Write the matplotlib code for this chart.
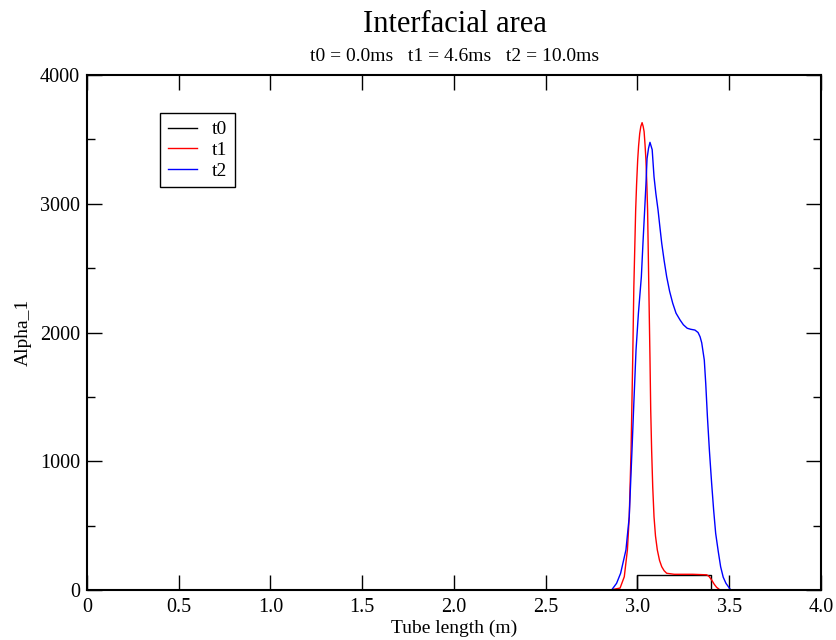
# Interfacial area - tres instantes

import matplotlib
matplotlib.use('Agg')
import matplotlib.pyplot as plt
from matplotlib.ticker import MultipleLocator

# Datos

x_t0 = [0.0, 3.0, 3.0, 3.4, 3.4, 3.75]
y_t0 = [0, 0, 120, 120, 0, 0]

x_t1 = [0.0, 2.85, 2.905, 2.928, 2.945, 2.955, 2.965, 2.974, 2.980, 2.990, 2.995,
        3.001, 3.006, 3.012, 3.018, 3.025, 3.031, 3.036, 3.041, 3.046, 3.051,
        3.055, 3.060, 3.068, 3.072, 3.077, 3.083, 3.090, 3.098, 3.108, 3.120,
        3.132, 3.145, 3.159, 3.20, 3.30, 3.377, 3.390, 3.404, 3.418, 3.431, 3.45, 3.75]
y_t1 = [0, 0, 15, 103, 311, 569, 1087, 1800, 2350, 2951, 3150,
        3340, 3450, 3545, 3600, 3630, 3600, 3560, 3460, 3340, 3150,
        2951, 2500, 1800, 1400, 1087, 800, 569, 420, 311, 230,
        181, 150, 130, 122, 122, 118, 105, 78, 45, 21, 0, 0]

x_t2 = [0.0, 2.82, 2.859, 2.886, 2.908, 2.937, 2.955, 2.970, 2.980, 2.992, 3.005,
        3.021, 3.030, 3.039, 3.046, 3.052, 3.060, 3.068, 3.080, 3.090, 3.100,
        3.112, 3.122, 3.132, 3.145, 3.159, 3.175, 3.192, 3.210, 3.232, 3.250,
        3.271, 3.290, 3.313, 3.330, 3.341, 3.350, 3.364, 3.372, 3.381, 3.392,
        3.404, 3.415, 3.426, 3.440, 3.453, 3.467, 3.482, 3.508, 3.75]
y_t2 = [0, 0, 0, 52, 130, 311, 569, 1087, 1450, 1864, 2150,
        2433, 2700, 2951, 3150, 3350, 3430, 3477, 3420, 3210, 3080,
        2951, 2820, 2693, 2560, 2433, 2320, 2227, 2150, 2097, 2060,
        2033, 2025, 2019, 2000, 1967, 1920, 1786, 1600, 1346, 1080,
        829, 620, 440, 300, 181, 100, 52, 0, 0]

# Grafica

plt.rcParams['font.family'] = ['Liberation Serif', 'DejaVu Serif']

fig = plt.figure(figsize=(8.37, 6.4), dpi=100)
ax = fig.add_axes([87 / 837, 50 / 640, 734 / 837, 515 / 640])

ax.plot(x_t0, y_t0, color='black', lw=1.0, label='t0')
ax.plot(x_t1, y_t1, color='red', lw=1.0, label='t1')
ax.plot(x_t2, y_t2, color='blue', lw=1.0, label='t2')

ax.set_xlim(0, 4)
ax.set_ylim(0, 4000)
ax.yaxis.set_major_locator(MultipleLocator(1000))
ax.yaxis.set_minor_locator(MultipleLocator(500))
ax.set_xticks([0, 0.5, 1.0, 1.5, 2.0, 2.5, 3.0, 3.5, 4.0])
ax.set_xticklabels(['0', '0.5', '1.0', '1.5', '2.0', '2.5', '3.0', '3.5', '4.0'])

ax.tick_params(which='both', direction='in', top=True, right=True, labelsize=14.5)
ax.tick_params(which='major', length=11, width=1)
ax.tick_params(which='minor', length=6, width=1)
ax.tick_params(axis='x', pad=6)
ax.tick_params(axis='y', pad=5)
for s in ax.spines.values():
    s.set_linewidth(1.5)

ax.set_xlabel('Tube length (m)', fontsize=14, labelpad=2)
ax.set_ylabel('Alpha_1', fontsize=14, labelpad=6)

fig.text(0.543, 0.962, 'Interfacial area', ha='center', va='center', fontsize=22)
fig.text(0.543, 0.911, 't0 = 0.0ms   t1 = 4.6ms   t2 = 10.0ms', ha='center', va='center', fontsize=14)

leg = ax.legend(loc='upper left', bbox_to_anchor=(0.0995, 0.926), fontsize=14,
                fancybox=False, edgecolor='black', framealpha=1, borderaxespad=0,
                handlelength=1.5, handletextpad=0.75, borderpad=0.4, labelspacing=0.15)
leg.get_frame().set_linewidth(1.0)

fig.savefig('out.png', dpi=100)
